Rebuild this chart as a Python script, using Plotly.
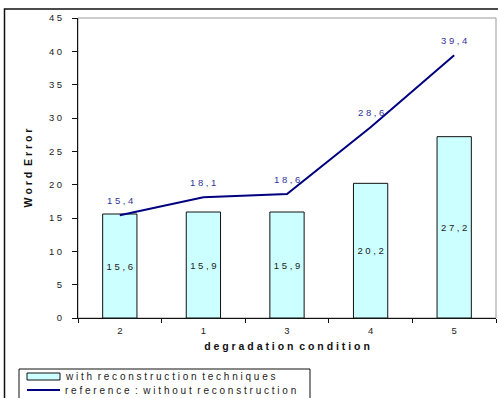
import plotly.graph_objects as go

# Word error per degradation condition
conditions = ["2", "1", "3", "4", "5"]
with_reconstruction = [15.6, 15.9, 15.9, 20.2, 27.2]
without_reconstruction = [15.4, 18.1, 18.6, 28.6, 39.4]
y_ticks = [0, 5, 10, 15, 20, 25, 30, 35, 40, 45]

FONT = "Liberation Sans, Arial, sans-serif"


def spaced(s):
    """Spread characters apart, old-spreadsheet style."""
    words = s.split(" ")
    return "\u00a0\u00a0".join(" ".join(w) for w in words)


def fmt(v):
    return spaced(f"{v:.1f}".replace(".", ","))


W, H = 498, 398
L, R, T, B = 78, 2, 18, 80
pw, ph = W - L - R, H - T - B


def px_x(x):
    return (x - L) / pw


def px_y(y):
    return (H - B - y) / ph


fig = go.Figure()

fig.add_trace(go.Bar(
    x=conditions, y=with_reconstruction,
    marker=dict(color="#CCFFFF", line=dict(color="#111111", width=1)),
    width=0.41,
    text=[fmt(v) for v in with_reconstruction],
    textposition="inside", insidetextanchor="middle", textangle=0,
    constraintext="none",
    textfont=dict(family=FONT, size=9.5, color="#222222"),
    showlegend=False, hoverinfo="skip",
))

fig.add_trace(go.Scatter(
    x=conditions, y=without_reconstruction,
    mode="lines",
    line=dict(color="#000080", width=2),
    showlegend=False, hoverinfo="skip",
))

axis_font = dict(family=FONT, size=9.5, color="#222222")

fig.update_layout(
    width=W, height=H,
    margin=dict(l=L, r=R, t=T, b=B),
    paper_bgcolor="white", plot_bgcolor="white",
    xaxis=dict(
        type="category", categoryorder="array", categoryarray=conditions,
        range=[-0.5, 4.5],
        showline=True, linecolor="#111111", linewidth=1,
        ticks="outside", ticklen=4, tickcolor="#111111", tickson="boundaries",
        ticklabelstandoff=4,
        tickfont=axis_font, showgrid=False, zeroline=False,
        title=dict(text="<b>" + spaced("degradation condition") + "</b>",
                   font=dict(family=FONT, size=10.5, color="#111111"), standoff=7),
    ),
    yaxis=dict(
        range=[0, 45], tickvals=y_ticks, ticktext=[spaced(str(v)) for v in y_ticks],
        showline=True, linecolor="#111111", linewidth=1,
        ticks="outside", ticklen=5, tickcolor="#111111",
        ticklabelstandoff=8,
        tickfont=axis_font, showgrid=False, zeroline=False,
        title=dict(text="<b>" + spaced("Word Error") + "</b>",
                   font=dict(family=FONT, size=10.5, color="#111111"), standoff=14),
    ),
    # overlay axes give the inner half of the crossing tick marks
    xaxis2=dict(overlaying="x", anchor="y", range=[-0.5, 4.5],
                tickvals=[-0.5, 0.5, 1.5, 2.5, 3.5, 4.5], ticks="inside", ticklen=4,
                tickcolor="#111111", showticklabels=False, showgrid=False,
                zeroline=False, showline=False),
    yaxis2=dict(overlaying="y", anchor="x", side="left", range=[0, 45],
                tickvals=y_ticks, ticks="inside", ticklen=4, tickcolor="#111111",
                showticklabels=False, showgrid=False, zeroline=False, showline=False),
)

shapes = [
    # plot area frame
    dict(type="rect", xref="paper", yref="paper", x0=0, x1=1, y0=0, y1=1,
         line=dict(color="#999999", width=1), layer="below"),
    # outer chart border
    dict(type="rect", xref="paper", yref="paper",
         x0=px_x(4.5), x1=px_x(505), y0=px_y(410), y1=px_y(9),
         line=dict(color="#111111", width=1.5)),
    # legend box
    dict(type="rect", xref="paper", yref="paper",
         x0=px_x(19), x1=px_x(310), y0=px_y(405), y1=px_y(369),
         line=dict(color="#111111", width=1)),
    # legend swatch: bars
    dict(type="rect", xref="paper", yref="paper",
         x0=px_x(27), x1=px_x(60), y0=px_y(380), y1=px_y(373),
         fillcolor="#CCFFFF", line=dict(color="#111111", width=1)),
    # legend swatch: line
    dict(type="line", xref="paper", yref="paper",
         x0=px_x(27), x1=px_x(60), y0=px_y(390), y1=px_y(390),
         line=dict(color="#000080", width=2)),
]

annotations = [
    dict(xref="paper", yref="paper", x=px_x(63), y=px_y(376.5),
         xanchor="left", yanchor="middle", showarrow=False,
         text=spaced("with reconstruction techniques"),
         font=dict(family=FONT, size=10, color="#222222")),
    dict(xref="paper", yref="paper", x=px_x(63), y=px_y(390),
         xanchor="left", yanchor="middle", showarrow=False,
         text=spaced("reference : without reconstruction"),
         font=dict(family=FONT, size=10, color="#222222")),
]

# value labels above the line points (x given as category position)
for i, v in enumerate(without_reconstruction):
    annotations.append(dict(
        x=i, y=v, xref="x", yref="y", showarrow=False,
        yanchor="middle", yshift=15, text=fmt(v),
        font=dict(family=FONT, size=9.5, color="#333399"),
    ))

fig.update_layout(shapes=shapes, annotations=annotations)

fig.write_html("out.html")
